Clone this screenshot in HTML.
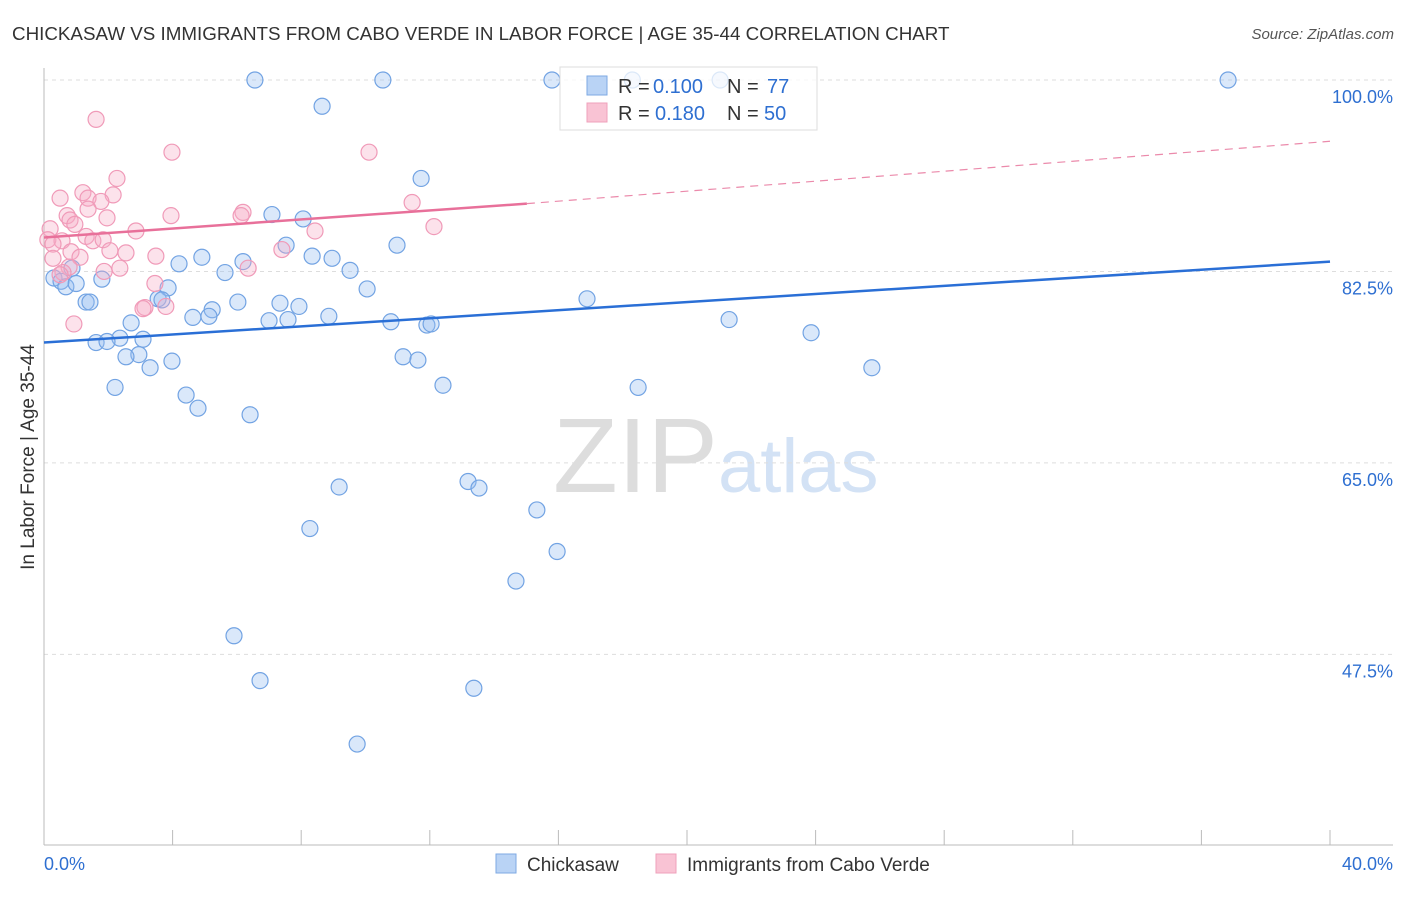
<!DOCTYPE html>
<html><head><meta charset="utf-8">
<style>
body{margin:0;background:#fff;font-family:"Liberation Sans",sans-serif;}
svg text{font-family:"Liberation Sans",sans-serif;}
</style></head><body>
<svg width="1406" height="892" viewBox="0 0 1406 892">
<text x="12" y="40" font-size="18.8" fill="#333">CHICKASAW VS IMMIGRANTS FROM CABO VERDE IN LABOR FORCE | AGE 35-44 CORRELATION CHART</text>
<text x="1394" y="39" font-size="15" fill="#555" font-style="italic" text-anchor="end">Source: ZipAtlas.com</text>
<g>
<text x="553" y="492" font-size="106" fill="#ddd" font-family="Liberation Serif">ZIP</text>
<text x="718" y="492" font-size="76" fill="#d3e2f5">atlas</text>
</g>
<g id="grid"></g>
<g id="axes"></g>
<g id="marks"></g>
<g>
<rect x="560" y="67" width="257" height="63" fill="rgba(255,255,255,0.75)" stroke="#ddd"/>
<rect x="587" y="76" width="20" height="19" fill="#b9d3f5" stroke="#7ea9e3"/>
<rect x="587" y="103" width="20" height="19" fill="#f9c3d4" stroke="#efa0bb"/>
<text y="93" font-size="20" fill="#333"><tspan x="618">R =</tspan><tspan x="653" fill="#2e6fd1">0.100</tspan><tspan x="727">N =</tspan><tspan x="767" fill="#2e6fd1">77</tspan></text>
<text y="120" font-size="20" fill="#333"><tspan x="618">R =</tspan><tspan x="655" fill="#2e6fd1">0.180</tspan><tspan x="727">N =</tspan><tspan x="764" fill="#2e6fd1">50</tspan></text>
</g>
<g>
<rect x="496" y="854" width="20" height="19" fill="#b9d3f5" stroke="#7ea9e3"/>
<text x="527" y="871" font-size="19" fill="#333">Chickasaw</text>
<rect x="656" y="854" width="20" height="19" fill="#f9c3d4" stroke="#efa0bb"/>
<text x="687" y="871" font-size="19" fill="#333">Immigrants from Cabo Verde</text>
</g>
<text transform="translate(34,457) rotate(-90)" font-size="19" fill="#333" text-anchor="middle">In Labor Force | Age 35-44</text>
</svg>
<script>
const xTicks=[0,4,8,12,16,20,24,28,32,36,40];
const yTicks=[100,82.5,65,47.5];
const yTickLabels=["100.0%","82.5%","65.0%","47.5%"];
const xEndLabels=["0.0%","40.0%"];
const blueX=[6.56,10.54,15.8,21.03,36.83,8.65,11.73,7.09,8.06,10.98,7.53,8.34,8.96,4.91,4.2,6.19,5.63,9.52,0.31,0.53,0.68,1.0,0.87,1.8,3.86,10.05,16.89,1.31,1.43,3.55,3.67,6.03,7.34,7.93,5.23,5.13,4.63,7.0,7.59,8.86,10.79,11.91,12.04,21.31,23.86,2.71,2.36,3.08,1.62,1.96,2.95,2.55,3.98,3.3,11.17,11.63,25.75,2.21,12.41,18.48,4.42,4.79,6.41,9.18,13.19,13.53,15.33,8.27,15.96,14.68,5.91,6.72,13.37,9.74,18.3];
const blueY=[100,100,100,100,100,97.6,91.0,87.7,87.3,84.9,84.9,83.9,83.7,83.8,83.2,83.4,82.4,82.6,81.9,81.6,81.1,81.4,82.8,81.8,81.0,80.9,80.0,79.7,79.7,80.0,79.9,79.7,79.6,79.3,79.0,78.4,78.3,78.0,78.1,78.4,77.9,77.6,77.7,78.1,76.9,77.8,76.4,76.3,76.0,76.1,74.9,74.7,74.3,73.7,74.7,74.4,73.7,71.9,72.1,71.9,71.2,70.0,69.4,62.8,63.3,62.7,60.7,59.0,56.9,54.2,49.2,45.1,44.4,39.3,100];
const pinkX=[1.62,3.98,10.11,2.27,1.21,0.5,2.15,1.37,1.77,1.37,6.19,6.13,3.95,11.45,0.72,0.81,1.96,0.96,12.13,0.19,2.86,8.43,1.31,0.12,0.56,1.52,1.84,0.28,7.4,0.84,2.05,2.55,3.48,1.12,0.28,6.35,2.36,1.87,0.78,0.59,3.45,3.14,3.79,0.93,0.5,3.08];
const pinkY=[96.4,93.4,93.4,91.0,89.7,89.2,89.5,89.2,88.9,88.2,87.9,87.6,87.6,88.8,87.6,87.2,87.4,86.8,86.6,86.4,86.2,86.2,85.7,85.4,85.3,85.3,85.4,85.0,84.5,84.3,84.4,84.2,83.9,83.8,83.7,82.8,82.8,82.5,82.9,82.4,81.4,79.2,79.3,77.7,82.2,79.1];
const blueTrend=[[0,76.0],[40,83.4]];
const pinkTrendSolid=[[0,85.6],[15.02,88.7]];
const pinkTrendDash=[[15.02,88.7],[40,94.4]];
const NS="http://www.w3.org/2000/svg";
const xs=v=>44+v*32.15;
const ys=v=>80+(100-v)*10.94;
function mk(tag,attrs,parent){const e=document.createElementNS(NS,tag);for(const k in attrs)e.setAttribute(k,attrs[k]);parent.appendChild(e);return e;}
const grid=document.getElementById('grid'),axes=document.getElementById('axes'),marks=document.getElementById('marks');
yTicks.forEach((t,i)=>{
 const l=mk('line',{x1:44,x2:1393,y1:ys(t),y2:ys(t),stroke:'#ddd','stroke-dasharray':'4,4'},grid);
 
 
 const tx=mk('text',{x:1393,y:ys(t)+23,'font-size':18,fill:'#2e6fd1','text-anchor':'end'},axes);
 tx.textContent=yTickLabels[i];
 
 
});
let a=mk('line',{x1:44,x2:44,y1:68,y2:845,stroke:'#bbb'},axes);


a=mk('line',{x1:44,x2:1393,y1:845,y2:845,stroke:'#bbb'},axes);


xTicks.forEach(t=>{
 const l=mk('line',{x1:xs(t),x2:xs(t),y1:830,y2:845,stroke:'#bbb'},axes);
 
 
});
let t0=mk('text',{x:44,y:870,'font-size':18,fill:'#2e6fd1'},axes);t0.textContent=xEndLabels[0];


let t1=mk('text',{x:1393,y:870,'font-size':18,fill:'#2e6fd1','text-anchor':'end'},axes);t1.textContent=xEndLabels[1];


blueX.forEach((x,i)=>{
 const c=mk('circle',{cx:xs(x),cy:ys(blueY[i]),r:8,fill:'rgba(150,188,240,0.35)',stroke:'#72a3e3','stroke-width':1.2},marks);
 
 
});
pinkX.forEach((x,i)=>{
 const c=mk('circle',{cx:xs(x),cy:ys(pinkY[i]),r:8,fill:'rgba(246,172,198,0.35)',stroke:'#f09ab8','stroke-width':1.2},marks);
 
 
});
let bl=mk('line',{x1:xs(blueTrend[0][0]),y1:ys(blueTrend[0][1]),x2:xs(blueTrend[1][0]),y2:ys(blueTrend[1][1]),stroke:'#2a6fd6','stroke-width':2.5},marks);


let pl=mk('line',{x1:xs(pinkTrendSolid[0][0]),y1:ys(pinkTrendSolid[0][1]),x2:xs(pinkTrendSolid[1][0]),y2:ys(pinkTrendSolid[1][1]),stroke:'#e8709a','stroke-width':2.5},marks);


let pd=mk('line',{x1:xs(pinkTrendDash[0][0]),y1:ys(pinkTrendDash[0][1]),x2:xs(pinkTrendDash[1][0]),y2:ys(pinkTrendDash[1][1]),stroke:'#eb8aab','stroke-width':1.2,'stroke-dasharray':'8,6'},marks);


</script>
</body></html>
